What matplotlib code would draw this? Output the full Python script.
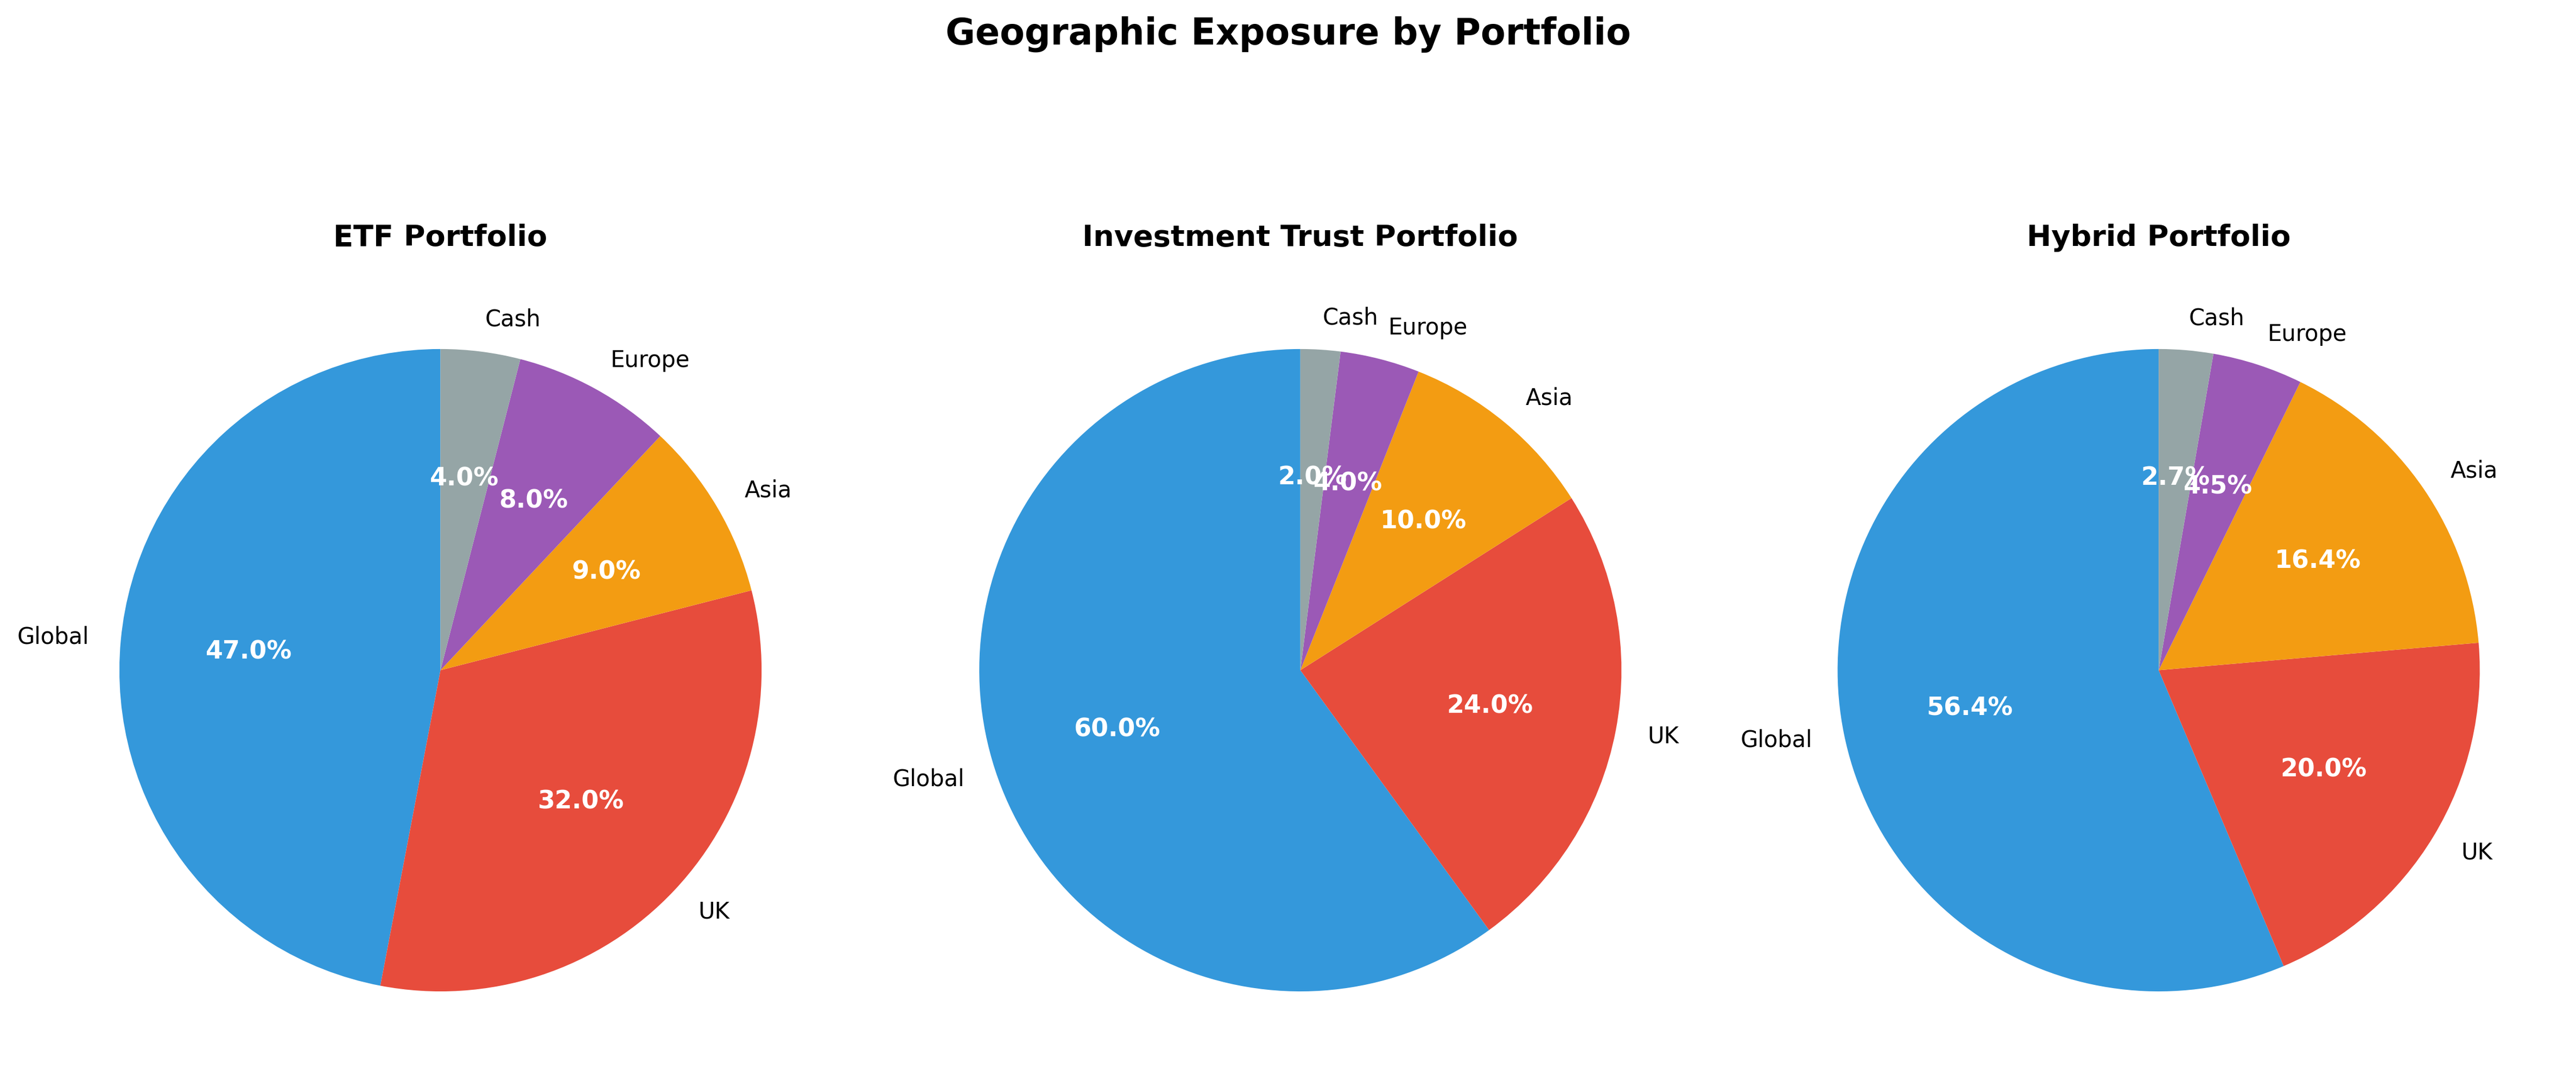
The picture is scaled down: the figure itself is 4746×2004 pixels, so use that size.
import matplotlib
matplotlib.use("Agg")
import matplotlib.pyplot as plt

regions = ["Global", "UK", "Asia", "Europe", "Cash"]
colors = ["#3498db", "#e74c3c", "#f39c12", "#9b59b6", "#95a5a6"]

etf_values = [47, 32, 9, 8, 4]
trust_values = [60, 24, 10, 4, 2]
hybrid_values = [62, 22, 18, 5, 3]

portfolios = ["ETF Portfolio", "Investment Trust Portfolio", "Hybrid Portfolio"]
all_values = [etf_values, trust_values, hybrid_values]

fig, axes = plt.subplots(1, 3, figsize=(15.82, 6.68), dpi=300)

centers_x = [0.171, 0.5048, 0.838]
h = 0.738
w = h * 6.68 / 15.82

for ax, title, vals, cx in zip(axes, portfolios, all_values, centers_x):
    wedges, texts, autotexts = ax.pie(vals, labels=regions, colors=colors,
                                      autopct="%1.1f%%", startangle=90,
                                      textprops={"fontsize": 10})
    for t in autotexts:
        t.set_color("white")
        t.set_fontweight("bold")
        t.set_fontsize(11)
    ax.set_title(title, fontsize=13, fontweight="bold", pad=10)
    ax.set_position([cx - w / 2, 0.015, w, h])

fig.suptitle("Geographic Exposure by Portfolio", fontsize=16, fontweight="bold", y=0.985)

fig.savefig("out.png", dpi=300)
